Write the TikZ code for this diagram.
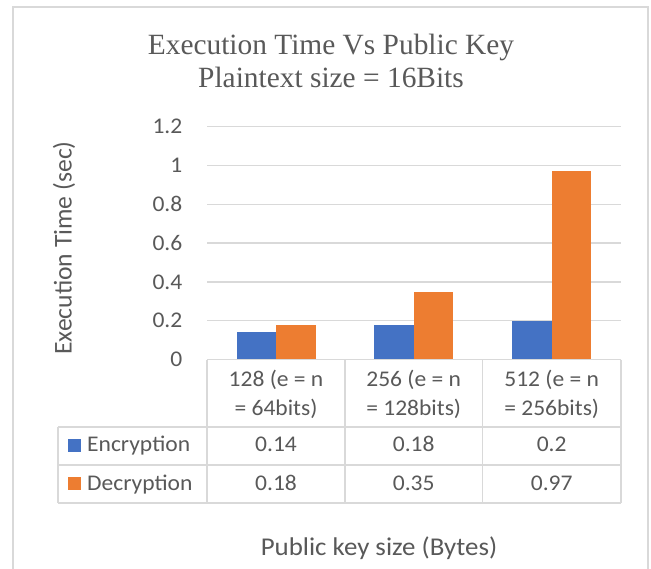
\documentclass[tikz,border=0pt]{standalone}
\usepackage{fontspec}
\setmainfont{Liberation Serif}
\newfontfamily\calfont[FakeStretch=1.05]{Carlito}
\newfontfamily\calplain{Carlito}
\definecolor{txt}{HTML}{595959}
\definecolor{gridc}{HTML}{D9D9D9}
\definecolor{encb}{HTML}{4472C4}
\definecolor{deco}{HTML}{ED7D31}
\tikzset{
  gridline/.style={draw=gridc, line width=1.3bp},
  tabline/.style={draw=gridc, line width=1.3bp},
  framel/.style={draw=gridc, line width=1.8bp},
  lbl/.style={font=\calfont\fontsize{22.5}{27}\selectfont, text=txt, inner sep=0pt},
  axt/.style={font=\calfont\fontsize{25.7}{30}\selectfont, text=txt, inner sep=0pt},
  axty/.style={font=\calplain\fontsize{25.7}{30}\selectfont, text=txt, inner sep=0pt},
  ttl/.style={font=\fontsize{29.5}{33}\selectfont, text=txt, inner sep=0pt},
}
\begin{document}
\begin{tikzpicture}[x=1bp,y=-1bp]
\useasboundingbox (0,0) rectangle (651,569);
\fill[white] (0,0) rectangle (651,569);
% frame
\draw[framel] (12.7,572) -- (12.7,6.7) -- (647.7,6.7) -- (647.7,572);
% title
\node[ttl, anchor=base] (t1) at (331,55) {Execution Time Vs Public Key};
\node[ttl, anchor=base] (t2) at (331,88) {Plaintext size = 16Bits};
% grid lines and tick labels
\foreach \v in {0.2,0.4,0.6,0.8,1.0,1.2}{
  \draw[gridline] (207,{359.5-\v*194}) -- (621,{359.5-\v*194});
}
\foreach \v/\t/\n in {0/0/k0,0.2/0.2/k1,0.4/0.4/k2,0.6/0.6/k3,0.8/0.8/k4,1.0/1/k5,1.2/1.2/k6}{
  \node[lbl, anchor=east] (\n) at (182.5,{359.5-\v*194}) {\t};
}
% bars
\foreach \c/\e/\d in {276/0.14/0.18, 413.7/0.18/0.35, 551.7/0.2/0.97}{
  \fill[encb] ({\c-39.5},359.5) rectangle (\c,{359.5-\e*194});
  \fill[deco] (\c,359.5) rectangle ({\c+39.5},{359.5-\d*194});
}
% table lines
\draw[tabline] (207,359.5) -- (621,359.5);
\foreach \yy in {427,465,503}{ \draw[tabline] (58,\yy) -- (621,\yy); }
\draw[tabline] (58,427) -- (58,503);
\foreach \xx in {207,345,482.5,621}{ \draw[tabline] (\xx,359.5) -- (\xx,503); }
% header cells
\node[lbl, anchor=base] (h1a) at (276,386) {128 (e = n};
\node[lbl, anchor=base] (h1b) at (276,415) {= 64bits)};
\node[lbl, anchor=base] (h2a) at (413.7,386) {256 (e = n};
\node[lbl, anchor=base] (h2b) at (413.7,415) {= 128bits)};
\node[lbl, anchor=base] (h3a) at (551.7,386) {512 (e = n};
\node[lbl, anchor=base] (h3b) at (551.7,415) {= 256bits)};
% legend rows
\fill[encb] (67.5,438.5) rectangle (81,452);
\fill[deco] (67.5,476.7) rectangle (81,490.2);
\node[lbl, anchor=base west] (enc) at (87,451.7) {Encryption};
\node[lbl, anchor=base west] (dec) at (87,490) {Decryption};
\node[lbl, anchor=base] (e1) at (276,451.7) {0.14};
\node[lbl, anchor=base] (e2) at (413.7,451.7) {0.18};
\node[lbl, anchor=base] (e3) at (551.7,451.7) {0.2};
\node[lbl, anchor=base] (d1) at (276,490) {0.18};
\node[lbl, anchor=base] (d2) at (413.7,490) {0.35};
\node[lbl, anchor=base] (d3) at (551.7,490) {0.97};
% axis titles
\node[axt, anchor=base] (xt) at (379,555) {Public key size (Bytes)};
\node[axty, rotate=90] (yt) at (64,248) {Execution Time (sec)};
\end{tikzpicture}
\end{document}
